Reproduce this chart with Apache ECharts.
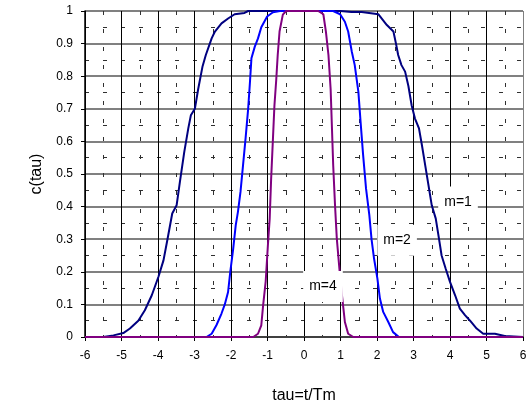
<!DOCTYPE html>
<html>
<head>
<meta charset="utf-8">
<script src="https://cdn.jsdelivr.net/npm/echarts@6/dist/echarts.min.js"></script>
<style>
html,body{margin:0;padding:0;background:#fff;}
#chart{width:532px;height:406px;}
</style>
</head>
<body>
<div id="chart"></div>
<script>
// m = 1 (navy)
var m1X = [-6, -5.5, -5.22, -5.18, -4.95, -4.77, -4.54, -4.36, -4.17, -3.99, -3.85, -3.74, -3.61, -3.49, -3.40, -3.28, -3.17, -3.10, -2.99, -2.90, -2.78, -2.69, -2.53, -2.44, -2.26, -2.08, -1.90, -1.63, -1.53, 1.0, 1.3, 1.58, 2.04, 2.27, 2.45, 2.52, 2.58, 2.67, 2.77, 2.86, 2.95, 3.04, 3.15, 3.23, 3.32, 3.41, 3.50, 3.61, 3.70, 3.77, 3.88, 4.00, 4.14, 4.27, 4.41, 4.55, 4.73, 4.91, 5.23, 5.50, 6];
var m1Y = [0, 0, 0.005, 0.01, 0.012, 0.026, 0.05, 0.082, 0.128, 0.184, 0.235, 0.30, 0.379, 0.404, 0.476, 0.568, 0.64, 0.68, 0.70, 0.76, 0.83, 0.865, 0.916, 0.937, 0.962, 0.977, 0.99, 0.994, 1.0, 1.0, 0.997, 0.997, 0.99, 0.957, 0.937, 0.90, 0.865, 0.834, 0.814, 0.77, 0.71, 0.67, 0.64, 0.589, 0.527, 0.466, 0.404, 0.363, 0.30, 0.25, 0.21, 0.169, 0.128, 0.087, 0.067, 0.05, 0.026, 0.01, 0.01, 0.003, 0];
// m = 2 (blue)
var m2X = [-6, -2.67, -2.53, -2.40, -2.26, -2.17, -2.08, -2.02, -1.94, -1.87, -1.81, -1.74, -1.67, -1.60, -1.53, -1.48, -1.44, -1.35, -1.26, -1.17, -1.01, -0.85, -0.66, 0.80, 0.99, 1.12, 1.21, 1.31, 1.39, 1.49, 1.55, 1.62, 1.70, 1.79, 1.85, 1.92, 2.01, 2.08, 2.17, 2.31, 2.44, 2.60, 6];
var m2Y = [0, 0, 0.01, 0.036, 0.072, 0.10, 0.138, 0.20, 0.27, 0.343, 0.384, 0.445, 0.527, 0.61, 0.70, 0.783, 0.855, 0.89, 0.916, 0.95, 0.983, 0.996, 1, 1, 0.99, 0.967, 0.937, 0.875, 0.834, 0.752, 0.66, 0.558, 0.455, 0.374, 0.30, 0.24, 0.18, 0.118, 0.077, 0.046, 0.015, 0, 0];
// m = 4 (purple)
var m4X = [-6, -1.39, -1.26, -1.17, -1.12, -1.05, -0.99, -0.94, -0.90, -0.85, -0.81, -0.76, -0.72, -0.67, -0.58, -0.49, 0.39, 0.53, 0.60, 0.67, 0.73, 0.76, 0.80, 0.85, 0.90, 0.97, 1.03, 1.08, 1.12, 1.21, 1.35, 6];
var m4Y = [0, 0, 0.01, 0.036, 0.097, 0.17, 0.28, 0.363, 0.486, 0.61, 0.71, 0.79, 0.865, 0.937, 0.989, 1, 1, 0.99, 0.937, 0.865, 0.76, 0.66, 0.527, 0.404, 0.30, 0.21, 0.138, 0.087, 0.046, 0.01, 0, 0];
// curve labels
var labelText = ['m=1', 'm=2', 'm=4'];
var labelX = [4.22, 2.55, 0.52];
var labelY = [0.414, 0.297, 0.155];

function pairs(xs, ys) { return xs.map(function (x, i) { return [x, ys[i]]; }); }

var font = '"Liberation Sans", Arial, sans-serif';
var xSplitColors = [];
for (var i = 0; i < 12; i++) xSplitColors.push('#000000');
xSplitColors.push('#808080');

var chart = echarts.init(document.getElementById('chart'), null, {renderer: 'canvas'});
chart.setOption({
  animation: false,
  backgroundColor: '#ffffff',
  grid: {left: 85, right: 9, top: 11, bottom: 69, show: false, containLabel: false, outerBoundsMode: 'none'},
  xAxis: {
    type: 'value', min: -6, max: 6, interval: 1,
    name: 'tau=t/Tm', nameLocation: 'middle', nameGap: 51,
    nameTextStyle: {fontFamily: font, fontSize: 16, color: '#000'},
    axisLine: {show: true, onZero: false, lineStyle: {color: '#404040', width: 2}},
    axisTick: {show: true, inside: false, length: 4, lineStyle: {color: '#000', width: 1}},
    axisLabel: {fontFamily: font, fontSize: 12, color: '#000', margin: 13},
    splitLine: {show: true, lineStyle: {color: xSplitColors, width: 1}},
    minorTick: {show: false, splitNumber: 2},
    minorSplitLine: {show: true, lineStyle: {color: '#303030', width: 1, type: [4, 14]}}
  },
  yAxis: {
    type: 'value', min: 0, max: 1, interval: 0.1,
    name: 'c(tau)', nameLocation: 'middle', nameGap: 40,
    nameTextStyle: {fontFamily: font, fontSize: 16, color: '#000'},
    axisLine: {show: true, onZero: false, lineStyle: {color: '#000', width: 1.5}},
    axisTick: {show: true, inside: false, length: 4, lineStyle: {color: '#000', width: 1}},
    axisLabel: {fontFamily: font, fontSize: 12, color: '#000', margin: 12,
      formatter: function (v) { return String(Math.round(v * 10) / 10); }},
    splitLine: {show: true, lineStyle: {color: '#808080', width: 2}},
    minorTick: {show: false, splitNumber: 2},
    minorSplitLine: {show: true, lineStyle: {color: '#303030', width: 1, type: [4, 14]}}
  },
  series: [
    {type: 'line', name: 'm=1', data: pairs(m1X, m1Y), showSymbol: false, symbol: 'none',
      lineStyle: {color: '#000080', width: 2}, z: 3},
    {type: 'line', name: 'm=2', data: pairs(m2X, m2Y), showSymbol: false, symbol: 'none',
      lineStyle: {color: '#0000FF', width: 2}, z: 4},
    {type: 'line', name: 'm=4', data: pairs(m4X, m4Y), showSymbol: false, symbol: 'none',
      lineStyle: {color: '#800080', width: 2}, z: 5},
    {type: 'scatter', name: 'labels', symbolSize: 0, z: 10, zlevel: 0,
      itemStyle: {opacity: 1},
      emphasis: {disabled: true},
      data: labelText.map(function (t, i) { return {name: t, value: [labelX[i], labelY[i]]}; }),
      label: {show: true, position: 'inside', formatter: '{b}', fontFamily: font, fontSize: 14,
        color: '#000', opacity: 1, backgroundColor: '#ffffff', padding: [9, 6, 8, 6]}}
  ]
});
</script>
</body>
</html>
